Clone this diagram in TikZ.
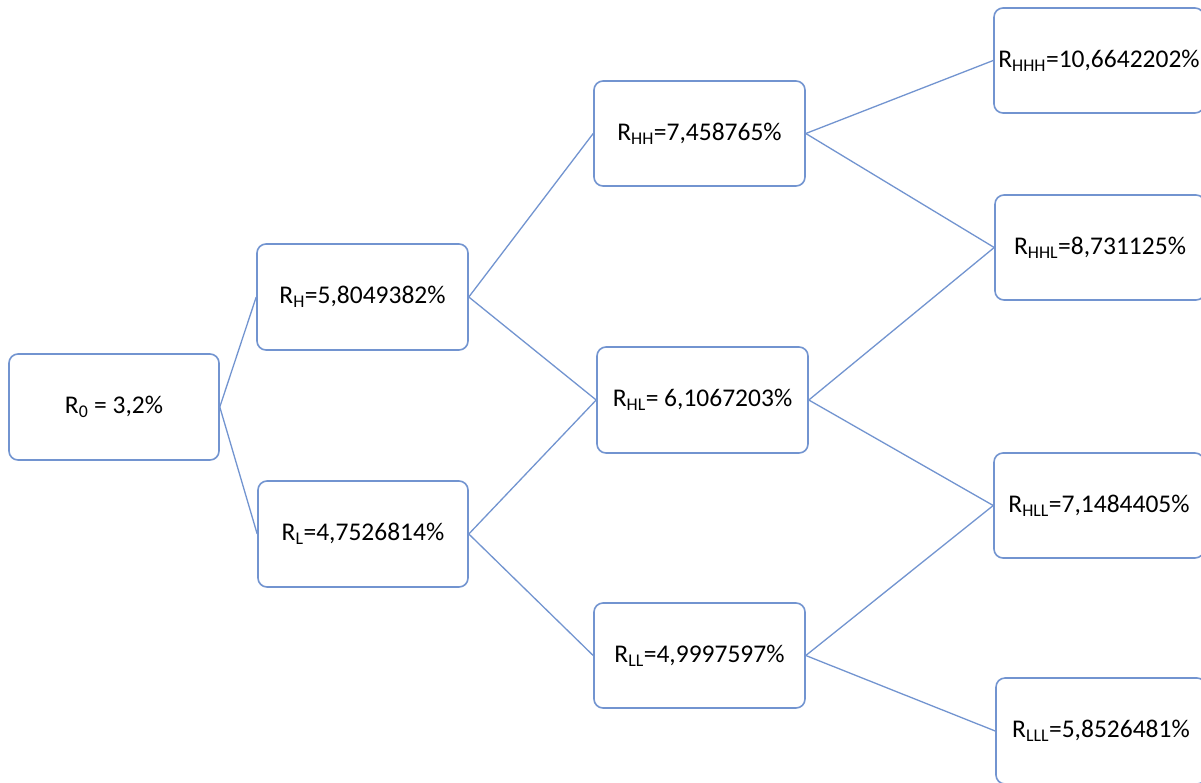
\documentclass[tikz,border=0pt]{standalone}
\usepackage{fontspec}
\setmainfont{Carlito}
\definecolor{boxblue}{RGB}{114,148,208}
\tikzset{
  tbox/.style={draw=boxblue, line width=1.6pt, rounded corners=9pt, fill=white, inner sep=0pt, font=\fontsize{25.5}{30}\selectfont},
  conn/.style={draw=boxblue, line width=1.3pt}
}
\newcommand{\bx}[6]{\node[tbox, minimum width={#4-#2}, minimum height={#5-#3}] (#1) at ({(#2+#4)/2},{(#3+#5)/2}) {#6};}
\begin{document}
\begin{tikzpicture}[x=1pt,y=-1pt]
\useasboundingbox (0,0) rectangle (1201,782);
\clip (0,0) rectangle (1201,782);
\fill[white] (0,0) rectangle (1201,782);
\bx{r0}{9}{354}{219}{460}{R\textsubscript{0} = 3,2\%}
\bx{rh}{257}{244}{468}{350}{R\textsubscript{H}=5,8049382\%}
\bx{rl}{258}{481}{468}{587}{R\textsubscript{L}=4,7526814\%}
\bx{rhh}{594}{81}{805}{186}{R\textsubscript{HH}=7,458765\%}
\bx{rhl}{597}{347}{808}{453}{R\textsubscript{HL}= 6,1067203\%}
\bx{rll}{594}{603}{805}{708}{R\textsubscript{LL}=4,9997597\%}
\bx{rhhh}{994}{8}{1204}{113}{R\textsubscript{HHH}=10,6642202\%}
\bx{rhhl}{995}{195}{1205}{300}{R\textsubscript{HHL}=8,731125\%}
\bx{rhll}{994}{453}{1204}{558}{R\textsubscript{HLL}=7,1484405\%}
\bx{rlll}{996}{678}{1206}{784}{R\textsubscript{LLL}=5,8526481\%}
\draw[conn] (r0.east) -- (rh.west);
\draw[conn] (r0.east) -- (rl.west);
\draw[conn] (rh.east) -- (rhh.west);
\draw[conn] (rh.east) -- (rhl.west);
\draw[conn] (rl.east) -- (rhl.west);
\draw[conn] (rl.east) -- (rll.west);
\draw[conn] (rhh.east) -- (rhhh.west);
\draw[conn] (rhh.east) -- (rhhl.west);
\draw[conn] (rhl.east) -- (rhhl.west);
\draw[conn] (rhl.east) -- (rhll.west);
\draw[conn] (rll.east) -- (rhll.west);
\draw[conn] (rll.east) -- (rlll.west);
\end{tikzpicture}
\end{document}
